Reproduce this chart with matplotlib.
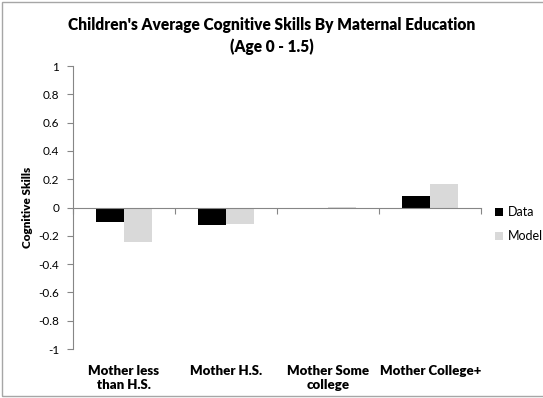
import matplotlib.pyplot as plt
import numpy as np
from matplotlib.patches import Rectangle

plt.rcParams['font.family'] = ['Lato', 'DejaVu Sans']

categories = ['Mother less\nthan H.S.', 'Mother H.S.', 'Mother Some\ncollege', 'Mother College+']
data_vals = [-0.10, -0.12, -0.003, 0.08]
model_vals = [-0.245, -0.115, 0.003, 0.165]
yticks = [-1, -0.8, -0.6, -0.4, -0.2, 0, 0.2, 0.4, 0.6, 0.8, 1]
ytick_labels = ['-1', '-0.8', '-0.6', '-0.4', '-0.2', '0', '0.2', '0.4', '0.6', '0.8', '1']

fig = plt.figure(figsize=(5.43, 3.98), dpi=100)
ax = fig.add_axes([0.1344, 0.123, 0.752, 0.711])

x = np.arange(len(categories))
w = 0.275
b1 = ax.bar(x - w / 2, data_vals, w, color='black', label='Data')
b2 = ax.bar(x + w / 2, model_vals, w, color='#d9d9d9', label='Model')

ax.set_xlim(-0.5, len(categories) - 0.5)
ax.set_ylim(-1, 1)
ax.set_yticks(yticks)
ax.set_yticklabels(ytick_labels, fontsize=8.5)
ax.tick_params(axis='y', length=4, color='#868686', pad=6)

# x axis drawn at zero with ticks between categories
ax.spines['bottom'].set_position(('data', 0))
ax.spines['bottom'].set_color('#868686')
ax.spines['left'].set_color('#868686')
ax.spines['top'].set_visible(False)
ax.spines['right'].set_visible(False)
ax.set_xticks(np.arange(len(categories) + 1) - 0.5)
ax.set_xticklabels([])
ax.tick_params(axis='x', length=4, color='#868686', direction='out')

for i, c in enumerate(categories):
    ax.text(i, -1.11, c, ha='center', va='top', fontsize=9.5, fontweight='heavy',
            linespacing=1.25)

ax.set_ylabel('Cognitive Skills', fontsize=8.5, fontweight='heavy', labelpad=4)

fig.text(0.5, 0.958, "Children's Average Cognitive Skills By Maternal Education\n(Age 0 - 1.5)",
         ha='center', va='top', fontsize=11.2, fontweight='heavy', linespacing=1.4)

fig.legend(handles=[b1, b2], labels=['Data', 'Model'], loc='center left',
           bbox_to_anchor=(0.903, 0.437), frameon=False, fontsize=9,
           handlelength=0.6, handleheight=0.6, handletextpad=0.4, labelspacing=0.95,
           borderaxespad=0)

fig.patches.append(Rectangle((0.004, 0.004), 1.2, 0.992, transform=fig.transFigure,
                             fill=False, edgecolor='#a6a6a6', linewidth=1.0))

fig.savefig('out.png', dpi=100)
